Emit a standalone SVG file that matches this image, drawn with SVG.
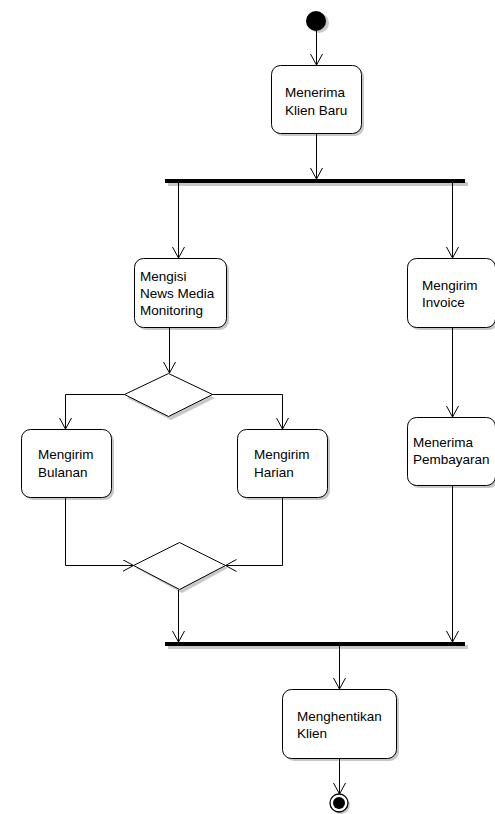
<svg xmlns="http://www.w3.org/2000/svg" width="495" height="814" viewBox="0 0 495 814">
<defs>
<style>
.box{fill:#fff;stroke:#000;stroke-width:1}
.sh{fill:#c8c8c8;stroke:none}
.bar{fill:#000}
.t{font-family:"Liberation Sans",Arial,sans-serif;font-size:13.5px;fill:#000}
.c{fill:none;stroke:#000;stroke-width:1}
</style>
<marker id="arr" markerWidth="14" markerHeight="14" refX="11" refY="6" orient="auto" markerUnits="userSpaceOnUse">
<path d="M0,0 L11,6 L0,12" fill="none" stroke="#000" stroke-width="1"/>
</marker>
</defs>
<rect width="495" height="814" fill="#fff"/>

<g id="start">
<circle cx="319" cy="23" r="10" class="sh"/>
<circle cx="316" cy="21" r="10" fill="#000"/>
</g>

<g id="menerima-klien">
<rect x="274" y="68" width="90" height="68" rx="9" class="sh"/>
<rect x="271.5" y="65.5" width="90" height="68" rx="9" class="box"/>
<text class="t" x="285" y="97">Menerima</text>
<text class="t" x="285" y="115">Klien Baru</text>
</g>

<g id="fork1">
<rect x="168" y="182" width="300" height="4" class="sh"/>
<rect x="165" y="179" width="300" height="4" class="bar"/>
</g>

<g id="mengisi">
<rect x="137" y="261" width="92" height="69" rx="9" class="sh"/>
<rect x="134.5" y="258.5" width="92" height="69" rx="9" class="box"/>
<text class="t" x="140" y="281">Mengisi</text>
<text class="t" x="140" y="298">News Media</text>
<text class="t" x="140" y="315">Monitoring</text>
</g>

<g id="mengirim-invoice">
<rect x="410" y="261" width="88" height="69" rx="9" class="sh"/>
<rect x="407.5" y="258.5" width="88" height="69" rx="9" class="box"/>
<text class="t" x="422" y="290">Mengirim</text>
<text class="t" x="422" y="307">Invoice</text>
</g>

<g id="decision">
<polygon points="171,377 215,398 171,420 127,398" class="sh"/>
<polygon points="168.5,373.5 212.5,394.5 168.5,416.5 124.5,394.5" class="box"/>
</g>

<g id="mengirim-bulanan">
<rect x="24" y="432" width="90" height="68" rx="9" class="sh"/>
<rect x="21.5" y="429.5" width="90" height="68" rx="9" class="box"/>
<text class="t" x="38" y="459">Mengirim</text>
<text class="t" x="38" y="477">Bulanan</text>
</g>

<g id="mengirim-harian">
<rect x="240" y="432" width="90" height="68" rx="9" class="sh"/>
<rect x="237.5" y="429.5" width="90" height="68" rx="9" class="box"/>
<text class="t" x="254" y="459">Mengirim</text>
<text class="t" x="254" y="477">Harian</text>
</g>

<g id="menerima-pembayaran">
<rect x="410" y="420" width="88" height="68" rx="9" class="sh"/>
<rect x="407.5" y="417.5" width="88" height="68" rx="9" class="box"/>
<text class="t" x="413" y="447">Menerima</text>
<text class="t" x="413" y="464">Pembayaran</text>
</g>

<g id="merge">
<polygon points="182,545 228,568 182,593 136,568" class="sh"/>
<polygon points="179.5,542.5 225.5,565.5 179.5,589.5 133.5,565.5" class="box"/>
</g>

<g id="join">
<rect x="168" y="645" width="300" height="4" class="sh"/>
<rect x="165" y="642" width="300" height="4" class="bar"/>
</g>

<g id="menghentikan">
<rect x="285" y="692" width="114" height="69" rx="9" class="sh"/>
<rect x="282.5" y="689.5" width="114" height="69" rx="9" class="box"/>
<text class="t" x="297" y="721">Menghentikan</text>
<text class="t" x="297" y="738">Klien</text>
</g>

<g id="end">
<circle cx="341" cy="805" r="9" class="sh"/>
<circle cx="339" cy="803" r="9" fill="#fff" stroke="#000" stroke-width="1.3"/>
<circle cx="339" cy="803" r="6" fill="#000"/>
</g>

<g id="connectors">
<line class="c" x1="316.5" y1="31" x2="316.5" y2="65" marker-end="url(#arr)"/>
<line class="c" x1="316.5" y1="134" x2="316.5" y2="179" marker-end="url(#arr)"/>
<line class="c" x1="178.5" y1="183" x2="178.5" y2="258" marker-end="url(#arr)"/>
<line class="c" x1="452.5" y1="183" x2="452.5" y2="258" marker-end="url(#arr)"/>
<line class="c" x1="169.5" y1="328" x2="169.5" y2="373" marker-end="url(#arr)"/>
<polyline class="c" points="124.5,394.5 65.5,394.5 65.5,429" marker-end="url(#arr)"/>
<polyline class="c" points="212.5,394.5 282.5,394.5 282.5,429" marker-end="url(#arr)"/>
<line class="c" x1="452.5" y1="328" x2="452.5" y2="417" marker-end="url(#arr)"/>
<polyline class="c" points="65.5,498 65.5,565.5 133.5,565.5" marker-end="url(#arr)"/>
<polyline class="c" points="282.5,498 282.5,565.5 225.5,565.5" marker-end="url(#arr)"/>
<line class="c" x1="178.5" y1="590" x2="178.5" y2="642" marker-end="url(#arr)"/>
<line class="c" x1="452.5" y1="486" x2="452.5" y2="642" marker-end="url(#arr)"/>
<line class="c" x1="339.5" y1="646" x2="339.5" y2="689" marker-end="url(#arr)"/>
<line class="c" x1="339.5" y1="759" x2="339.5" y2="794" marker-end="url(#arr)"/>
</g>
</svg>
